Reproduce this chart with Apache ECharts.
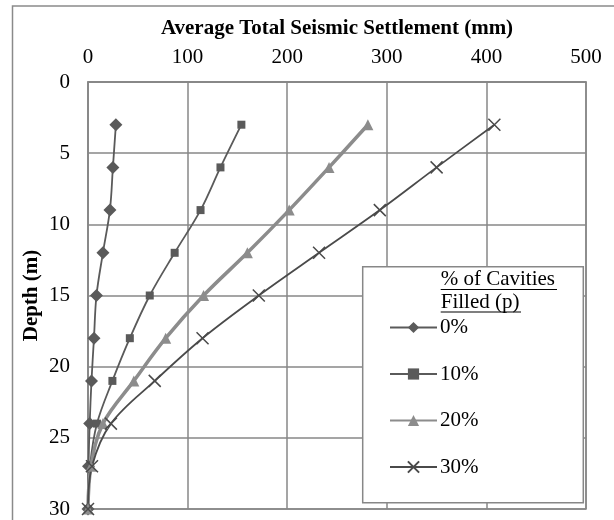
<!DOCTYPE html>
<html>
<head>
<meta charset="utf-8">
<script src="https://cdn.jsdelivr.net/npm/echarts@6/dist/echarts.min.js"></script>
<style>
html,body{margin:0;padding:0;background:#fff;}
#chart{width:614px;height:520px;}
</style>
</head>
<body>
<div id="chart"></div>
<script>
// Data
var depths = [3, 6, 9, 12, 15, 18, 21, 24, 27, 30];
var seriesNames = ['0%', '10%', '20%', '30%'];
var settle0 = [28, 25, 22, 15, 8.5, 6, 3.5, 1.7, 0.5, 0];
var settle10 = [154, 133, 113, 87, 62, 42, 24.5, 9, 2, 0];
var settle20 = [281, 242, 202, 160, 116, 78, 46, 15, 3, 0];
var settle30 = [408, 350, 293, 232, 171.5, 115, 67, 23, 4, 0];
var xTicks = [0, 100, 200, 300, 400, 500];
var yTicks = [0, 5, 10, 15, 20, 25, 30];

function pairs(vals) {
  return vals.map(function (v, i) { return [v, depths[i]]; });
}

var FONT = '"Liberation Serif", "Times New Roman", serif';
var GRIDC = '#878787';

var chart = echarts.init(document.getElementById('chart'), null, {renderer: 'canvas'});

var option = {
  backgroundColor: '#ffffff',
  animation: false,
  grid: {
    left: 88, top: 82, right: 28, bottom: 11,
    show: true, borderColor: GRIDC, borderWidth: 1.5, backgroundColor: 'transparent'
  },
  xAxis: {
    type: 'value', position: 'top',
    min: xTicks[0], max: xTicks[xTicks.length - 1], interval: 100,
    name: 'Average Total Seismic Settlement (mm)',
    nameLocation: 'middle', nameGap: 43,
    nameTextStyle: {fontFamily: FONT, fontWeight: 'bold', fontSize: 21, color: '#000'},
    axisLine: {show: true, lineStyle: {color: GRIDC, width: 1.5}},
    axisTick: {show: false},
    axisLabel: {fontFamily: FONT, fontSize: 21, color: '#000', margin: 14},
    splitLine: {show: true, lineStyle: {color: GRIDC, width: 1.5}}
  },
  yAxis: {
    type: 'value', inverse: true,
    min: yTicks[0], max: yTicks[yTicks.length - 1], interval: 5,
    name: 'Depth (m)',
    nameLocation: 'middle', nameGap: 46, nameRotate: 90, nameMoveOverlap: false,
    nameTextStyle: {fontFamily: FONT, fontWeight: 'bold', fontSize: 21, color: '#000'},
    axisLine: {show: true, lineStyle: {color: GRIDC, width: 1.5}},
    axisTick: {show: false},
    axisLabel: {fontFamily: FONT, fontSize: 21, color: '#000', margin: 18},
    splitLine: {show: true, lineStyle: {color: GRIDC, width: 1.5}}
  },
  legend: {
    orient: 'vertical', z: 80, padding: 0,
    left: 389, top: 317,
    itemWidth: 47, itemHeight: 14, itemGap: 25.5,
    textStyle: {fontFamily: FONT, fontSize: 21, color: '#000', padding: [0, 0, 0, -2]},
    data: seriesNames
  },
  graphic: [
    {type: 'rect', z: 0, silent: true,
     shape: {x: 12.5, y: 6, width: 700, height: 600},
     style: {fill: 'none', stroke: '#8a8a8a', lineWidth: 1.5}},
    {type: 'rect', z: 50, silent: true,
     shape: {x: 362.7, y: 266.7, width: 220.6, height: 236},
     style: {fill: '#ffffff', stroke: GRIDC, lineWidth: 1.5}},
    {type: 'text', z: 60, silent: true, left: 440.7, top: 269,
     style: {text: '% of Cavities', font: '21px ' + FONT, fill: '#000'}},
    {type: 'line', z: 60, silent: true,
     shape: {x1: 440.7, y1: 289.5, x2: 557, y2: 289.5},
     style: {stroke: '#000', lineWidth: 1.2}},
    {type: 'text', z: 60, silent: true, left: 440.7, top: 292,
     style: {text: 'Filled (p)', font: '21px ' + FONT, fill: '#000'}},
    {type: 'line', z: 60, silent: true,
     shape: {x1: 440.7, y1: 312, x2: 521, y2: 312},
     style: {stroke: '#000', lineWidth: 1.2}}
  ],
  series: [
    {
      name: seriesNames[0], type: 'line', smooth: 0.35, data: pairs(settle0),
      symbol: 'diamond', symbolSize: 13,
      lineStyle: {color: '#5a5a5a', width: 1.8},
      itemStyle: {color: '#5a5a5a'}, z: 10
    },
    {
      name: seriesNames[1], type: 'line', smooth: 0.35, data: pairs(settle10),
      symbol: 'rect', symbolSize: 8,
      lineStyle: {color: '#5a5a5a', width: 1.8},
      itemStyle: {color: '#5a5a5a'}, z: 10
    },
    {
      name: seriesNames[2], type: 'line', smooth: 0.35, data: pairs(settle20),
      symbol: 'triangle', symbolSize: 11,
      lineStyle: {color: '#8c8c8c', width: 3.5},
      itemStyle: {color: '#8c8c8c'}, z: 10
    },
    {
      name: seriesNames[3], type: 'line', smooth: 0.35, data: pairs(settle30),
      symbol: 'path://M0,0L10,10M0,10L10,0', symbolSize: 12,
      lineStyle: {color: '#4a4a4a', width: 1.8},
      itemStyle: {color: 'rgba(0,0,0,0)', borderColor: '#4a4a4a', borderWidth: 1.5}, z: 10
    }
  ]
};
chart.setOption(option);
</script>
</body>
</html>
